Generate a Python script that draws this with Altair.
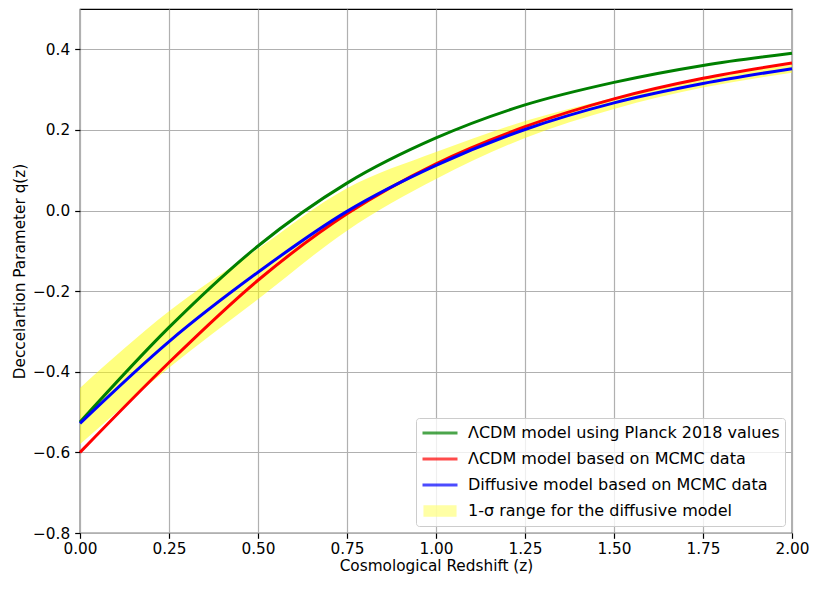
import altair as alt
import pandas as pd

# Redshift grid
z = [0.0, 0.25, 0.5, 0.75, 1.0, 1.25, 1.5, 1.75, 2.0]

# Deceleration parameter values
q_planck = [-0.525, -0.290, -0.088, 0.068, 0.180, 0.262, 0.318, 0.360, 0.390]
q_lcdm_mcmc = [-0.600, -0.377, -0.173, -0.008, 0.116, 0.208, 0.277, 0.328, 0.366]
q_diffusive = [-0.528, -0.325, -0.153, -0.002, 0.112, 0.201, 0.267, 0.315, 0.352]

# 1-sigma band of the diffusive model
band_lo = [-0.580, -0.390, -0.220, -0.050, 0.078, 0.180, 0.252, 0.305, 0.342]
band_hi = [-0.440, -0.250, -0.095, 0.055, 0.145, 0.222, 0.280, 0.328, 0.362]

names = [
    "ΛCDM model using Planck 2018 values",
    "ΛCDM model based on MCMC data",
    "Diffusive model based on MCMC data",
    "1-σ range for the diffusive model",
]
colors = ["#008000", "#ff0000", "#0000ff", "#ffff00"]
legend_colors = ["#008000", "#ff0000", "#0000ff", "#ffff80"]
legend_shapes = ["M-1,0H1", "M-1,0H1", "M-1,0H1", "M-0.86,-0.24H0.86V0.24H-0.86Z"]

x_ticks = [0.0, 0.25, 0.5, 0.75, 1.0, 1.25, 1.5, 1.75, 2.0]
y_ticks = [-0.8, -0.6, -0.4, -0.2, 0.0, 0.2, 0.4]

band_df = pd.DataFrame({"z": z, "lo": band_lo, "hi": band_hi})
legend_df = pd.DataFrame({"model": names})

FONT = "DejaVu Sans"
FS = 15.3
LW = 3

legend = alt.Legend(
    title=None,
    orient="bottom-right",
    offset=7,
    padding=5,
    symbolSize=1225,
    symbolStrokeWidth=LW,
    clipHeight=20,
    rowPadding=6,
    labelOffset=9,
    labelFont=FONT,
    labelFontSize=16,
    labelColor="black",
    labelLimit=0,
    strokeColor="#cccccc",
    fillColor="rgba(255,255,255,0.8)",
    cornerRadius=3,
)

x_enc = alt.X(
    "z:Q",
    scale=alt.Scale(domain=[0, 2], nice=False, zero=False),
    axis=alt.Axis(values=x_ticks, format=".2f", title="Cosmological Redshift (z)"),
)
y_axis = alt.Axis(values=y_ticks, format=".1f", title="Deccelartion Parameter q(z)")
y_scale = alt.Scale(domain=[-0.8, 0.5], nice=False, zero=False)

band = alt.Chart(band_df).mark_area(
    color=colors[3], opacity=0.5, interpolate="monotone"
).encode(
    x=x_enc,
    y=alt.Y("lo:Q", scale=y_scale, axis=y_axis),
    y2="hi:Q",
)

layers = [band]
for name, vals, col in zip(names[:3], [q_planck, q_lcdm_mcmc, q_diffusive], colors[:3]):
    df = pd.DataFrame({"z": z, "q": vals})
    layers.append(
        alt.Chart(df).mark_line(color=col, strokeWidth=LW, interpolate="monotone").encode(
            x=x_enc,
            y=alt.Y("q:Q", scale=y_scale, axis=y_axis),
        )
    )

legend_layer = alt.Chart(legend_df).transform_filter("false").mark_point(filled=True).encode(
    color=alt.Color("model:N", scale=alt.Scale(domain=names, range=legend_colors), legend=legend),
    stroke=alt.Stroke("model:N", scale=alt.Scale(domain=names, range=legend_colors), legend=legend),
    shape=alt.Shape("model:N", scale=alt.Scale(domain=names, range=legend_shapes), legend=legend),
)
layers.append(legend_layer)

chart = (
    alt.layer(*layers)
    .properties(
        width=712,
        height=524,
        autosize=alt.AutoSizeParams(type="none"),
        padding={"left": 72, "top": 1, "right": 18, "bottom": 43},
    )
    .configure(font=FONT)
    .configure_view(stroke="black", strokeWidth=1.2)
    .configure_axis(
        domain=False,
        grid=True,
        gridColor="#b0b0b0",
        gridWidth=1.2,
        tickColor="black",
        tickSize=5.3,
        tickWidth=1.2,
        labelFont=FONT,
        labelFontSize=FS,
        labelColor="black",
        labelFlush=False,
        labelOverlap=False,
        titleFont=FONT,
        titleFontSize=FS,
        titleFontWeight="normal",
        titleColor="black",
    )
    .configure_axisX(labelPadding=3, titlePadding=2)
    .configure_axisY(labelPadding=5, titlePadding=5)
)

chart.save("out.html", embed_options={"renderer": "svg", "actions": False})
